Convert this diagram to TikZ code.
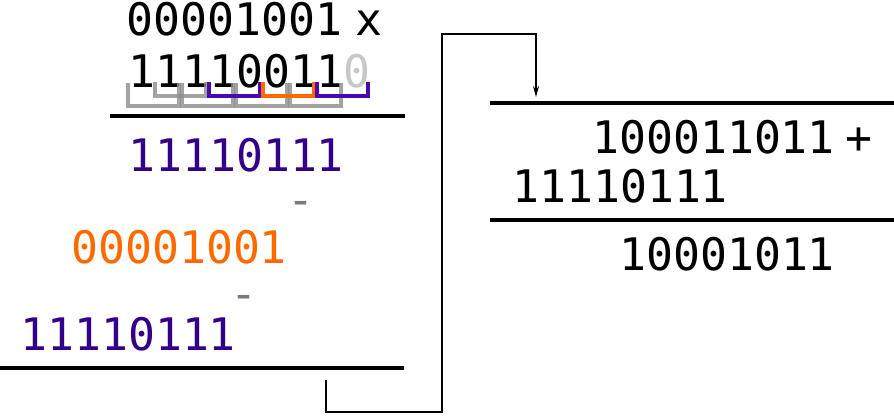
\documentclass[tikz,border=0pt]{standalone}
\usepackage{fontspec}
\newfontfamily\dmono{DejaVu Sans Mono}
\usetikzlibrary{arrows.meta}
\definecolor{ptext}{HTML}{330088}
\definecolor{pbr}{HTML}{4A0AB0}
\definecolor{otext}{HTML}{FF6A00}
\definecolor{gbr}{HTML}{8C8C8C}
\definecolor{lgray}{HTML}{C8C8C8}
\definecolor{dgray}{HTML}{7A7A7A}
\begin{document}
\begin{tikzpicture}[x=1pt,y=-1pt,
  num/.style={anchor=base west, inner sep=0pt, font=\dmono\fontsize{44.8}{50}\selectfont},
  sym/.style={anchor=base, inner sep=0pt, font=\dmono\fontsize{44.8}{50}\selectfont},
  rule/.style={line width=3.4pt},
  conn/.style={line width=1.5pt, -{Stealth[length=11pt,width=6pt]}},
  lowbr/.style={line width=3.4pt, draw=gbr, draw opacity=0.8},
  upbr/.style={line width=3.4pt}
]
\useasboundingbox (0,0) rectangle (894,415);
% left column
\node[num] (m1) at (126.5,35) {00001001};
\node[sym] (x) at (369,35) {x};
\node[num] (m2) at (128,87) {11110011\textcolor{lgray}{0}};
% brackets: lower gray
\foreach \i in {0,2,4,6} {
  \draw[lowbr] ({126+27*\i+2},83) -- ({126+27*\i+2},106) -- ({126+27*(\i+2)-1},106) -- ({126+27*(\i+2)-1},83);
}
% upper brackets
\draw[lowbr] ({126+27*1+2},82) -- ({126+27*1+2},96) -- ({126+27*3-1},96) -- ({126+27*3-1},82);
\draw[upbr, draw=pbr] ({126+27*3+2},82) -- ({126+27*3+2},96) -- ({126+27*5-1},96) -- ({126+27*5-1},82);
\draw[upbr, draw=otext] ({126+27*5+2},82) -- ({126+27*5+2},96) -- ({126+27*7-1},96) -- ({126+27*7-1},82);
\draw[upbr, draw=pbr] ({126+27*7+2},82) -- ({126+27*7+2},96) -- ({126+27*9-1},96) -- ({126+27*9-1},82);
\draw[rule] (110,116) -- (405,116);
\node[num, text=ptext] (p1) at (128,171) {11110111};
\node[sym, text=dgray] (d1) at (301,215) {-};
\node[num, text=otext] (o1) at (71,263) {00001001};
\node[sym, text=dgray] (d2) at (244,309) {-};
\node[num, text=ptext] (p2) at (20,350) {11110111};
\draw[rule] (0,368) -- (404,368);
% right column
\draw[rule] (490,103) -- (894,103);
\node[num] (r1) at (592,153) {100011011};
\node[sym] (plus) at (858.5,153) {+};
\node[num] (r2) at (512,202) {11110111};
\draw[rule] (490,220) -- (894,220);
\node[num] (r3) at (619,270) {10001011};
% connector
\coordinate (s) at (326,380);
\coordinate (e) at (536,97);
\draw[conn] (s) |- (442,412) -- (442,34) -| (e);
\end{tikzpicture}
\end{document}
